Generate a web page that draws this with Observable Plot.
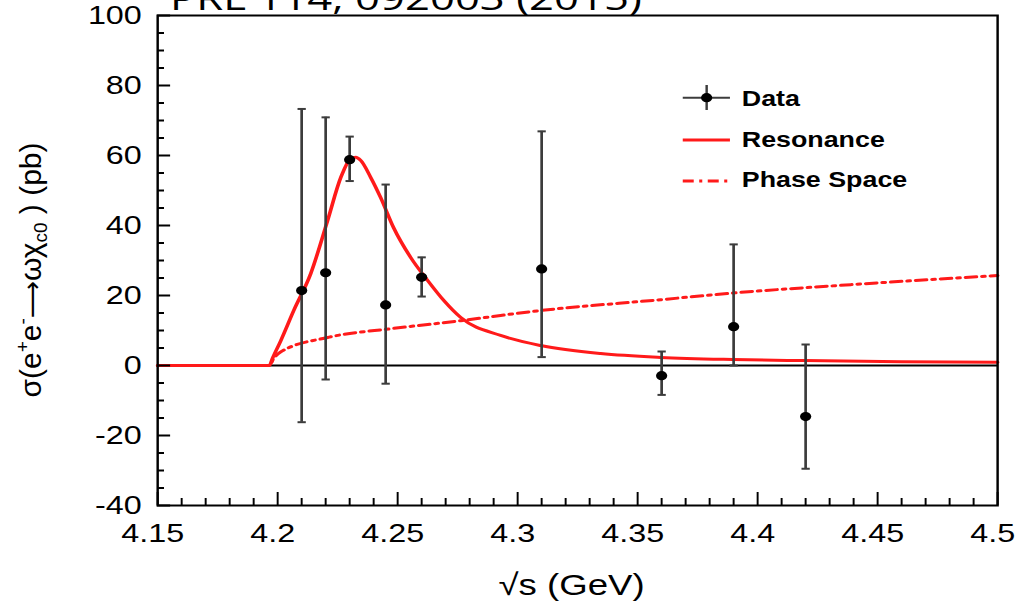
<!DOCTYPE html>
<html><head><meta charset="utf-8">
<script src="https://cdn.jsdelivr.net/npm/d3@7"></script>
<script src="https://cdn.jsdelivr.net/npm/@observablehq/plot@0.6"></script>
<style>
html,body{margin:0;padding:0;background:#fff;overflow:hidden;}
#chart svg{display:block;}
</style></head><body><div id="chart"></div>
<script>
// ---- data ----
const energies = [4.21, 4.22, 4.23, 4.245, 4.26, 4.31, 4.36, 4.39, 4.42];
const sigma    = [21.4, 26.5, 58.8, 17.3, 25.2, 27.6, -2.9, 11.1, -14.6];
const errHigh  = [73.3, 70.9, 65.4, 51.7, 30.9, 66.9, 4.0, 34.6, 6.0];
const errLow   = [-16.2, -4.0, 52.7, -5.2, 19.7, 2.4, -8.4, 0.0, -29.5];

const resonanceS = [4.15, 4.1965, 4.198, 4.2013, 4.2067, 4.2138, 4.2208, 4.2263, 4.2304, 4.2325, 4.2346, 4.2388, 4.2429, 4.2483, 4.2554, 4.2625, 4.2692, 4.2763, 4.2929, 4.3096, 4.3346, 4.3596, 4.3896, 4.4196, 4.46, 4.5];
const resonanceY = [0, 0, 2.3, 7.1, 15.7, 26.3, 41.4, 53.7, 59.1, 59.5, 58.6, 53.7, 48.0, 39.4, 30.9, 24.3, 18.6, 13.7, 8.6, 5.7, 3.4, 2.3, 1.7, 1.4, 1.1, 0.9];

const phaseS = [4.15, 4.1965, 4.1983, 4.2013, 4.2208, 4.2483, 4.2763, 4.2929, 4.3096, 4.3596, 4.3896, 4.4388, 4.5];
const phaseY = [0, 0, 2.0, 3.9, 8.0, 10.6, 12.8, 14.3, 15.7, 18.8, 20.7, 23.1, 25.7];

const xTicks = [4.15, 4.2, 4.25, 4.3, 4.35, 4.4, 4.45, 4.5];
const xTickLabels = ["4.15", "4.2", "4.25", "4.3", "4.35", "4.4", "4.45", "4.5"];
const yTicks = [-40, -20, 0, 20, 40, 60, 80, 100];
const yTickLabels = ["-40", "-20", "0", "20", "40", "60", "80", "100"];

const titleText = "PRL 114, 092003 (2015)";
const xLabel = "\u221As (GeV)";
const legendLabels = ["Data", "Resonance", "Phase Space"];

// ---- layout (internal units, stretched horizontally to 1017px) ----
const W = 834, H = 604, S = 1017 / W;
const mL = 128.8, mR = 16.4, mT = 15, mB = 99;
const frameW = W - mL - mR, frameH = H - mT - mB;

const xMinor = d3.range(415, 451).map(v => v / 100).filter(v => Math.round(v * 100) % 5 !== 0);
const yMinor = d3.range(-40, 101, 5).filter(v => v % 20 !== 0);

const points = energies.map((e, i) => ({e, y: sigma[i], hi: errHigh[i], lo: errLow[i]}));
const res = resonanceS.map((s, i) => ({s, y: resonanceY[i]}));
const ph = phaseS.map((s, i) => ({s, y: phaseY[i]}));

const capSymbol = {draw(ctx) { ctx.moveTo(-3.4, 0); ctx.lineTo(3.4, 0); }};
const red = "#ff1a1a";
const barColor = "#3c3c3c";
const dashDot = "9,4.5,2.5,4.5";

const chart = Plot.plot({
  width: W, height: H,
  marginLeft: mL, marginRight: mR, marginTop: mT, marginBottom: mB,
  style: {fontFamily: "'Liberation Sans', Arial, sans-serif", color: "black", background: "white"},
  x: {domain: [4.15, 4.5]},
  y: {domain: [-40, 100]},
  marks: [
    Plot.ruleY([0], {stroke: "black", strokeWidth: 2}),
    Plot.line(ph, {x: "s", y: "y", stroke: red, strokeWidth: 3, strokeDasharray: dashDot, curve: "monotone-x"}),
    Plot.line(res, {x: "s", y: "y", stroke: red, strokeWidth: 3, curve: "monotone-x"}),
    Plot.ruleX(points, {x: "e", y1: "lo", y2: "hi", stroke: barColor, strokeWidth: 2.2}),
    Plot.dot(points, {x: "e", y: "hi", symbol: capSymbol, stroke: barColor, strokeWidth: 2, fill: "none"}),
    Plot.dot(points, {x: "e", y: "lo", symbol: capSymbol, stroke: barColor, strokeWidth: 2, fill: "none"}),
    Plot.dot(points, {x: "e", y: "y", r: 4.6, fill: "black", stroke: "none"}),
    Plot.tickX(xTicks, {x: d => d, insetTop: frameH - 13, stroke: "black", strokeWidth: 1.6}),
    Plot.tickX(xMinor, {x: d => d, insetTop: frameH - 7, stroke: "black", strokeWidth: 1.6}),
    Plot.tickY(yTicks, {y: d => d, insetRight: frameW - 10.7, stroke: "black", strokeWidth: 2}),
    Plot.tickY(yMinor, {y: d => d, insetRight: frameW - 5.7, stroke: "black", strokeWidth: 2}),
    Plot.frame({stroke: "black", strokeWidth: 2}),
    Plot.axisX(xTicks, {tickSize: 0, tickPadding: 18, fontSize: 26.5, dx: -4, label: null,
      tickFormat: d => xTickLabels[xTicks.indexOf(d)]}),
    Plot.axisY(yTicks, {tickSize: 0, tickPadding: 13, fontSize: 26.5, label: null,
      tickFormat: d => yTickLabels[yTicks.indexOf(d)]}),
    Plot.text([xLabel], {frameAnchor: "bottom", dy: 80, dx: -5, fontSize: 30, lineAnchor: "middle", fill: "black"})
  ]
});

chart.setAttribute("width", 1017);
chart.setAttribute("preserveAspectRatio", "none");
chart.style.width = "1017px";
chart.style.height = "604px";
chart.style.maxWidth = "none";
chart.style.overflow = "hidden";
document.getElementById("chart").appendChild(chart);

const svg = d3.select(chart);

// title (cut off at the top like the reference)
svg.append("text")
  .attr("x", 139.4).attr("y", 10)
  .attr("text-anchor", "start")
  .attr("textLength", 387).attr("lengthAdjust", "spacingAndGlyphs")
  .attr("font-family", "'Open Sans', 'DejaVu Sans', sans-serif")
  .attr("font-size", 33).attr("fill", "black")
  .text(titleText);

// y-axis label (counter-stretched so it looks unstretched)
const yl = svg.append("text")
  .attr("transform", `translate(34,270) scale(${1 / S},1) rotate(-90)`)
  .attr("text-anchor", "middle")
  .attr("font-family", "'Liberation Sans', Arial, sans-serif")
  .attr("font-size", 30).attr("fill", "black");
yl.append("tspan").text("\u03C3(e");
yl.append("tspan").attr("dy", -12).attr("font-size", 19).text("+");
yl.append("tspan").attr("dy", 12).text("e");
yl.append("tspan").attr("dy", -12).attr("font-size", 19).text("-");
yl.append("tspan").attr("dy", 12).attr("font-family", "'DejaVu Sans', sans-serif").attr("font-size", 26).text("\u27F6");
yl.append("tspan").text("\u03C9\u03C7");
yl.append("tspan").attr("dy", 6).attr("font-size", 19).text("c0");
yl.append("tspan").attr("dy", -6).text(" ) (pb)");

// legend
const lg = svg.append("g").attr("font-family", "'Liberation Sans', Arial, sans-serif")
  .attr("font-weight", "bold").attr("font-size", 22).attr("fill", "black")
  .attr("text-anchor", "start");
const lx1 = 559.9, lx2 = 598.6, lxm = 579.5, tx = 608.3;
// Data
lg.append("line").attr("x1", lx1).attr("x2", lx2).attr("y1", 97.7).attr("y2", 97.7).attr("stroke", barColor).attr("stroke-width", 2);
lg.append("line").attr("x1", lxm).attr("x2", lxm).attr("y1", 85).attr("y2", 110).attr("stroke", barColor).attr("stroke-width", 2);
lg.append("circle").attr("cx", lxm).attr("cy", 97.7).attr("r", 4.6).attr("fill", "black");
lg.append("text").attr("x", tx).attr("y", 106).text(legendLabels[0]);
// Resonance
lg.append("line").attr("x1", lx1).attr("x2", lx2).attr("y1", 140).attr("y2", 140).attr("stroke", red).attr("stroke-width", 3);
lg.append("text").attr("x", tx).attr("y", 147).text(legendLabels[1]);
// Phase space
lg.append("line").attr("x1", lx1).attr("x2", lx2).attr("y1", 181).attr("y2", 181).attr("stroke", red).attr("stroke-width", 3).attr("stroke-dasharray", dashDot);
lg.append("text").attr("x", tx).attr("y", 187).text(legendLabels[2]);
</script>
</body></html>
